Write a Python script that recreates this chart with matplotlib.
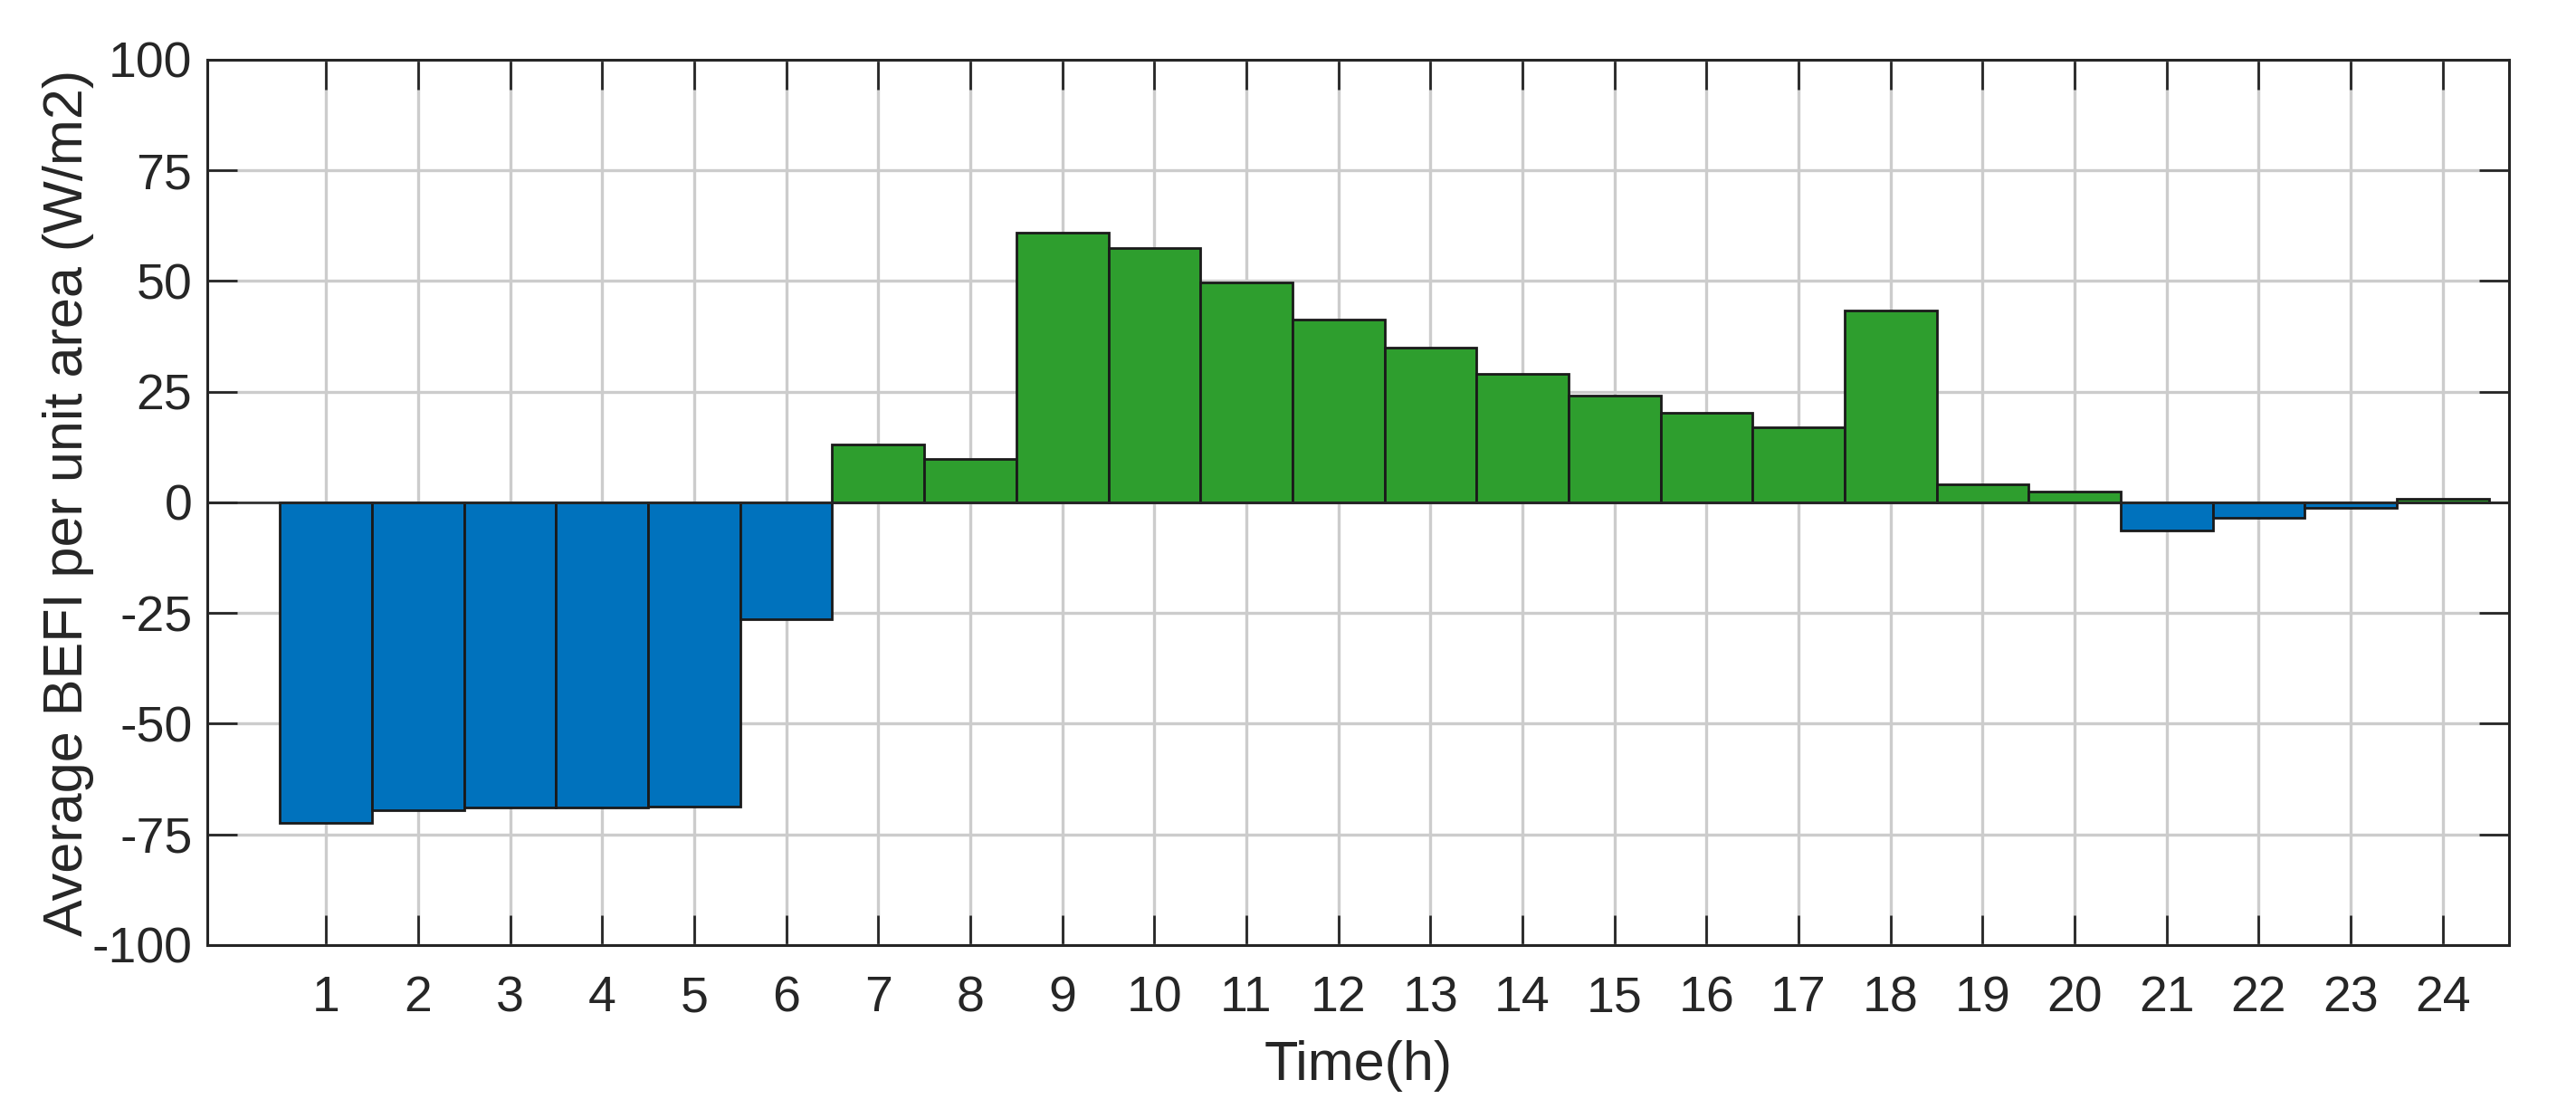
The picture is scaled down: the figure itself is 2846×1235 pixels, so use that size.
import matplotlib
matplotlib.use("Agg")
from matplotlib import pyplot as plt
import numpy as np

hours = list(range(1, 25))
befi = [-72.5, -69.5, -68.9, -68.9, -68.7, -26.4,
        13.0, 9.8, 61.0, 57.5, 49.7, 41.4,
        34.9, 29.1, 24.1, 20.2, 17.0, 43.3,
        4.1, 2.4, -6.3, -3.4, -1.2, 0.8]
yticks = [-100, -75, -50, -25, 0, 25, 50, 75, 100]

plt.rcParams['font.family'] = ['Liberation Sans', 'DejaVu Sans']
plt.rcParams['axes.unicode_minus'] = False
axcol = '#262626'

fig = plt.figure(figsize=(28.46, 12.35), dpi=100)
ax = fig.add_axes([0.0805, 0.1547, 0.8935, 0.7919])

colors = ['#0072BD' if v < 0 else '#2E9E2E' for v in befi]
ax.bar(hours, befi, width=1.0, color=colors, edgecolor='#1a1a1a', linewidth=2, zorder=3)
ax.axhline(0, color=axcol, lw=1.8, zorder=4)

ax.set_xlim(-0.29, 24.72)
ax.set_ylim(-100, 100)
ax.set_xticks(hours)
ax.set_yticks(yticks)
ax.grid(True, color='#cccccc', lw=2.4, zorder=0)
ax.set_axisbelow(True)

ax.tick_params(axis='both', direction='in', length=24, width=2, colors=axcol,
               labelsize=40, top=True, right=True, pad=12)
ax.tick_params(axis='x', pad=24)
for s in ax.spines.values():
    s.set_color(axcol)
    s.set_linewidth(2.2)

ax.set_xlabel('Time(h)', fontsize=44, color=axcol, labelpad=14)
ax.set_ylabel('Average BEFI per unit area (W/m2)', fontsize=44, color=axcol, labelpad=-2)

fig.savefig('out.png', dpi=100)
